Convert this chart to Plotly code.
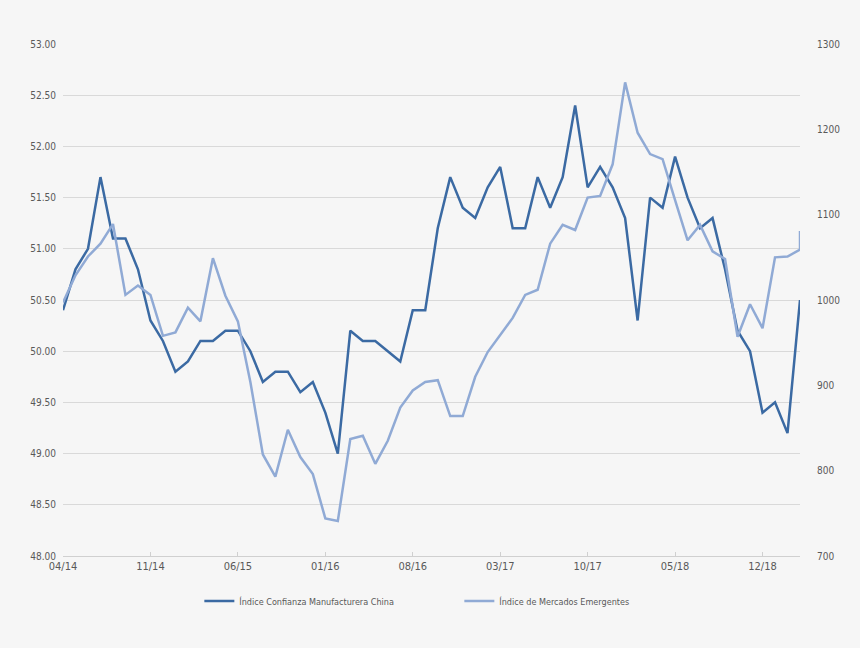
import pandas as pd
import plotly.graph_objects as go

months = [d.strftime("%m/%y") for d in pd.date_range("2014-04-01", "2019-03-01", freq="MS")]

china_pmi = [50.4, 50.8, 51.0, 51.7, 51.1, 51.1, 50.8, 50.3, 50.1, 49.8,
             49.9, 50.1, 50.1, 50.2, 50.2, 50.0, 49.7, 49.8, 49.8, 49.6,
             49.7, 49.4, 49.0, 50.2, 50.1, 50.1, 50.0, 49.9, 50.4, 50.4,
             51.2, 51.7, 51.4, 51.3, 51.6, 51.8, 51.2, 51.2, 51.7, 51.4,
             51.7, 52.4, 51.6, 51.8, 51.6, 51.3, 50.3, 51.5, 51.4, 51.9,
             51.5, 51.2, 51.3, 50.8, 50.2, 50.0, 49.4, 49.5, 49.2, 50.5]

em_months = months + [months[-1]]
em_index = [997, 1029, 1051, 1066, 1089, 1006, 1017, 1006, 958, 962,
            991, 975, 1049, 1005, 975, 904, 819, 793, 848, 816,
            796, 744, 741, 837, 841, 808, 835, 874, 894, 904,
            906, 864, 864, 910, 939, 959, 979, 1006, 1012, 1066,
            1088, 1082, 1120, 1122, 1159, 1255, 1196, 1171, 1165, 1117,
            1070, 1088, 1057, 1048, 957, 995, 967, 1050, 1051, 1059, 1081]

tick_labels = months[::7]

name_china = "Índice Confianza Manufacturera China"
name_em = "Índice de Mercados Emergentes"

font_family = "Liberation Sans Narrow, DejaVu Sans Condensed, Arial Narrow, sans-serif"

fig = go.Figure()
fig.add_trace(go.Scatter(x=months, y=china_pmi, name=name_china, mode="lines",
                         line=dict(color="#3b6aa3", width=2.5), yaxis="y"))
fig.add_trace(go.Scatter(x=em_months, y=em_index, name=name_em, mode="lines",
                         line=dict(color="#90aad5", width=2.5), yaxis="y2"))

fig.update_layout(
    width=860, height=648,
    margin=dict(l=63, r=60, t=44, b=92),
    paper_bgcolor="#f6f6f6", plot_bgcolor="#f6f6f6",
    font=dict(family=font_family, size=10, color="#595959"),
    showlegend=True,
    legend=dict(orientation="h", x=0.185, xanchor="left", y=-0.088, yanchor="middle",
                font=dict(size=9, color="#595959"), entrywidth=215, entrywidthmode="pixels",
                bgcolor="rgba(0,0,0,0)"),
    xaxis=dict(type="category", categoryorder="array", categoryarray=months,
               range=[0, len(months) - 1], tickmode="array", tickvals=tick_labels,
               ticktext=tick_labels, showgrid=False, showline=True, linecolor="#d0d0d0",
               linewidth=1, ticks="inside", ticklen=4, tickcolor="#d0d0d0",
               tickfont=dict(size=11, color="#595959"), zeroline=False),
    yaxis=dict(range=[48, 53], dtick=0.5, tickformat=".2f", showgrid=True,
               gridcolor="#d9d9d9", gridwidth=1, zeroline=False, ticks="",
               tickfont=dict(size=10, color="#595959"), ticklabelstandoff=6),
    yaxis2=dict(range=[700, 1300], dtick=100, overlaying="y", side="right",
                showgrid=False, zeroline=False, tickfont=dict(size=10, color="#595959"),
                ticklabelstandoff=16),
)

fig.write_html("out.html", config={"displayModeBar": False},
               post_script="document.body.style.margin='0';document.body.style.background='#f6f6f6';")
